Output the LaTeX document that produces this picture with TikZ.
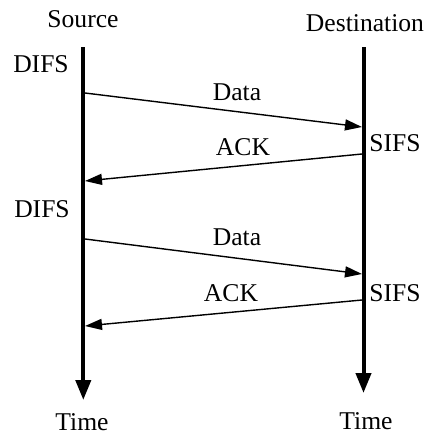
\documentclass[tikz,border=0pt]{standalone}
\usepackage{fontspec}
\setmainfont{Liberation Serif}
\usetikzlibrary{arrows.meta}

\begin{document}
\begin{tikzpicture}[x=0.5pt,y=-0.5pt,
    timeline/.style={line width=2pt,-{Triangle[length=10pt,width=7.5pt]}},
    msg/.style={line width=0.7pt,-{Triangle[length=8.5pt,width=5.5pt]}},
    lbl/.style={inner sep=0pt,font=\fontsize{12.8}{15}\selectfont}]
  \useasboundingbox (0,0) rectangle (427,434);
  % stations and their time axes
  \node[lbl] (src) at (83,19) {Source};
  \node[lbl] (dst) at (365,23) {Destination};
  \node[lbl] (srctime) at (82,422) {Time};
  \node[lbl] (dsttime) at (366,421) {Time};
  \coordinate (srctop) at (83.3,47);
  \coordinate (srcend) at (83.3,400);
  \coordinate (dsttop) at (363.5,47);
  \coordinate (dstend) at (363.5,393);
  \draw[timeline] (srctop) -- (srcend);
  \draw[timeline] (dsttop) -- (dstend);
  % first exchange
  \coordinate (d1s) at (85,93);    \coordinate (d1e) at (362,127);
  \coordinate (a1s) at (362,154);  \coordinate (a1e) at (85,181);
  \draw[msg] (d1s) -- (d1e);
  \draw[msg] (a1s) -- (a1e);
  \node[lbl] (difs1) at (41,64) {DIFS};
  \node[lbl] (data1) at (237,92) {Data};
  \node[lbl] (ack1) at (243,147) {ACK};
  \node[lbl] (sifs1) at (395,143) {SIFS};
  % second exchange
  \coordinate (d2s) at (85,239);   \coordinate (d2e) at (362,274);
  \coordinate (a2s) at (362,300);  \coordinate (a2e) at (85,326);
  \draw[msg] (d2s) -- (d2e);
  \draw[msg] (a2s) -- (a2e);
  \node[lbl] (difs2) at (42,209) {DIFS};
  \node[lbl] (data2) at (237,237) {Data};
  \node[lbl] (ack2) at (231,293) {ACK};
  \node[lbl] (sifs2) at (395,293) {SIFS};
\end{tikzpicture}
\end{document}
